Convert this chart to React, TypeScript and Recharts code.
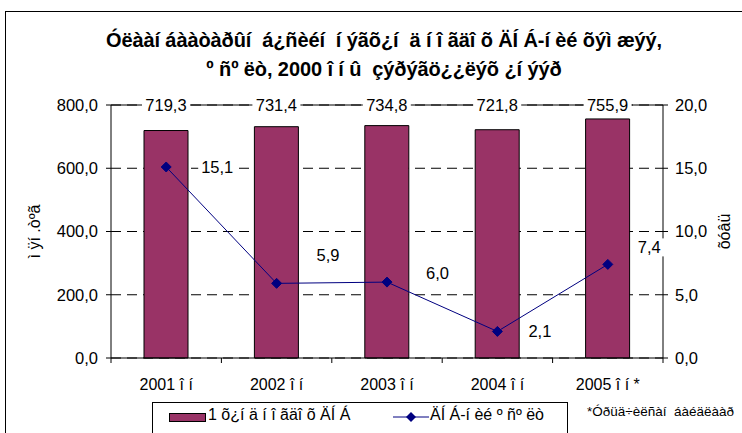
import React from "react"
import {
  ComposedChart,
  Bar,
  Line,
  XAxis,
  YAxis,
  CartesianGrid,
  ReferenceLine,
  LabelList,
} from "recharts"

const years = ["2001 î í", "2002 î í", "2003 î í", "2004 î í", "2005 î í *"]
const gdpPerCapita = [719.3, 731.4, 734.8, 721.8, 755.9]
const growthRate = [15.1, 5.9, 6.0, 2.1, 7.4]
const leftTicks = [0, 200, 400, 600, 800]
const rightTicks = [0, 5, 10, 15, 20]

const titleLines = [
  "Óëààí áààòàðûí  á¿ñèéí  í ýãõ¿í  ä í î ãäî õ ÄÍ Á-í èé õýì æýý,",
  "º ñº ëò, 2000 î í û  çýðýãö¿¿ëýõ ¿í ýýð",
]
const barName = "1 õ¿í ä í î ãäî õ ÄÍ Á"
const lineName = "ÄÍ Á-í èé º ñº ëò"
const leftTitle = "ì ÿí .òºã"
const rightTitle = "õóâü"
const footnote = "*Óðüä÷èëñàí  áàéäëààð"

const data = years.map((year, i) => ({
  year,
  gdp: gdpPerCapita[i],
  growth: growthRate[i],
}))

const W = 742
const H = 433
const PLOT_LEFT = 111
const PLOT_RIGHT = 663
const PLOT_TOP = 105
const PLOT_BOTTOM = 358
const PLOT_MID = (PLOT_TOP + PLOT_BOTTOM) / 2
const HALF_BAND = (PLOT_RIGHT - PLOT_LEFT) / years.length / 2
const FONT = "'Liberation Sans', Arial, sans-serif"
const BAR_COLOR = "#993366"
const LINE_COLOR = "#000080"

const fmt = (v: number) => v.toFixed(1).replace(".", ",")

// label offsets for the growth line (Excel-ish "right" placement, hand nudged)
const lineLabelShift = [
  { dx: 35, dy: 0 },
  { dx: 40, dy: -28 },
  { dx: 39, dy: -9 },
  { dx: 31, dy: 0 },
  { dx: 30, dy: -17 },
]

function XTick(props: any) {
  const { x, y, payload, index } = props
  return (
    <g>
      <line x1={x - HALF_BAND} x2={x - HALF_BAND} y1={y} y2={y + 5} stroke="#000" />
      {index === years.length - 1 && (
        <line x1={x + HALF_BAND} x2={x + HALF_BAND} y1={y} y2={y + 5} stroke="#000" />
      )}
      <text
        x={x}
        y={y + 26}
        textAnchor="middle"
        dominantBaseline="central"
        fontSize={16}
        fontFamily={FONT}
        fill="#000"
      >
        {payload.value}
      </text>
    </g>
  )
}

function Diamond(props: any) {
  const { cx, cy } = props
  if (cx == null || cy == null) return null
  const r = 5
  return (
    <polygon
      points={`${cx},${cy - r} ${cx + r},${cy} ${cx},${cy + r} ${cx - r},${cy}`}
      fill={LINE_COLOR}
      stroke={LINE_COLOR}
    />
  )
}

function BarTopLabel(props: any) {
  const { x, width, value } = props
  const cx = x + width / 2
  return (
    <g>
      <rect x={cx - 24} y={PLOT_TOP - 9} width={48} height={18} fill="#fff" />
      <text
        x={cx}
        y={PLOT_TOP}
        textAnchor="middle"
        dominantBaseline="central"
        fontSize={16.5}
        fontFamily={FONT}
        fill="#000"
      >
        {fmt(value)}
      </text>
    </g>
  )
}

function GrowthLabel(props: any) {
  const { x, y, value, index } = props
  const s = lineLabelShift[index] || { dx: 30, dy: 0 }
  const lx = x + s.dx
  const ly = y + s.dy
  return (
    <g>
      <rect x={lx - 3} y={ly - 9} width={36} height={18} fill="#fff" />
      <text
        x={lx}
        y={ly}
        textAnchor="start"
        dominantBaseline="central"
        fontSize={16.5}
        fontFamily={FONT}
        fill="#000"
      >
        {fmt(value)}
      </text>
    </g>
  )
}

export default function App() {
  return (
    <div
      style={{
        position: "absolute",
        left: 0,
        top: 0,
        width: W,
        height: H,
        background: "#fff",
        overflow: "hidden",
        fontFamily: FONT,
      }}
    >
      {/* chart frame */}
      <div
        style={{
          position: "absolute",
          left: 5,
          top: 11,
          width: W,
          height: H,
          border: "1px solid #000",
        }}
      />
      <div
        style={{
          position: "absolute",
          left: 0,
          top: 26,
          width: 768,
          textAlign: "center",
          fontWeight: "bold",
          fontSize: 20,
          lineHeight: "29px",
          letterSpacing: -0.1,
          whiteSpace: "pre",
        }}
      >
        {titleLines.map((t) => (
          <div key={t}>{t}</div>
        ))}
      </div>

      <div style={{ position: "absolute", left: 0, top: 0 }}>
        <ComposedChart
          width={W}
          height={H}
          data={data}
          margin={{ top: PLOT_TOP, right: 0, bottom: H - PLOT_BOTTOM - 40, left: 0 }}
        >
          <CartesianGrid
            vertical={false}
            yAxisId="left"
            stroke="#000"
            strokeDasharray="10 6"
          />
          <XAxis
            dataKey="year"
            axisLine={{ stroke: "#000" }}
            tickLine={false}
            tickSize={0}
            tickMargin={0}
            height={40}
            tick={<XTick />}
            interval={0}
          />
          <YAxis
            yAxisId="left"
            domain={[0, 800]}
            ticks={leftTicks}
            tickFormatter={fmt}
            width={PLOT_LEFT}
            axisLine={{ stroke: "#000" }}
            tickLine={{ stroke: "#000" }}
            tickSize={5}
            tickMargin={8}
            tick={{ fill: "#000", fontSize: 16.5, fontFamily: FONT }}
          />
          <YAxis
            yAxisId="right"
            orientation="right"
            domain={[0, 20]}
            ticks={rightTicks}
            tickFormatter={fmt}
            width={W - PLOT_RIGHT}
            axisLine={{ stroke: "#000" }}
            tickLine={{ stroke: "#000" }}
            tickSize={5}
            tickMargin={7}
            tick={{ fill: "#000", fontSize: 16.5, fontFamily: FONT }}
          />
          <ReferenceLine yAxisId="left" y={800} stroke="#000" strokeWidth={1} />
          <Bar
            yAxisId="left"
            dataKey="gdp"
            name={barName}
            fill={BAR_COLOR}
            stroke="#000"
            strokeWidth={1}
            barSize={44}
            isAnimationActive={false}
          >
            <LabelList dataKey="gdp" content={<BarTopLabel />} />
          </Bar>
          <Line
            yAxisId="right"
            dataKey="growth"
            name={lineName}
            stroke={LINE_COLOR}
            strokeWidth={1}
            dot={<Diamond />}
            activeDot={false}
            isAnimationActive={false}
          >
            <LabelList dataKey="growth" content={<GrowthLabel />} />
          </Line>
        </ComposedChart>
      </div>

      {/* axis titles */}
      <svg
        width={W}
        height={H}
        style={{ position: "absolute", left: 0, top: 0, pointerEvents: "none" }}
      >
        <text
          x={40}
          y={PLOT_MID}
          transform={`rotate(-90 40 ${PLOT_MID})`}
          textAnchor="middle"
          fontSize={16}
          fontFamily={FONT}
        >
          {leftTitle}
        </text>
        <text
          x={730}
          y={PLOT_MID}
          transform={`rotate(-90 730 ${PLOT_MID})`}
          textAnchor="middle"
          fontSize={16}
          fontFamily={FONT}
        >
          {rightTitle}
        </text>
      </svg>

      {/* legend */}
      <div
        style={{
          position: "absolute",
          left: 152,
          top: 402,
          width: 416,
          height: 40,
          border: "1px solid #000",
          boxSizing: "border-box",
        }}
      >
        <div
          style={{
            position: "absolute",
            left: 16,
            top: 10,
            width: 35,
            height: 7,
            background: BAR_COLOR,
            border: "1px solid #000",
          }}
        />
        <div style={{ position: "absolute", left: 55, top: 3, fontSize: 16, whiteSpace: "pre" }}>
          {barName}
        </div>
        <svg style={{ position: "absolute", left: 240, top: 8 }} width={36} height={12}>
          <line x1={0} x2={36} y1={6} y2={6} stroke={LINE_COLOR} />
          <polygon points="18,1 23,6 18,11 13,6" fill={LINE_COLOR} />
        </svg>
        <div style={{ position: "absolute", left: 277, top: 3, fontSize: 16, whiteSpace: "pre" }}>
          {lineName}
        </div>
      </div>
      <div
        style={{
          position: "absolute",
          left: 587,
          top: 404,
          fontSize: 13.5,
          whiteSpace: "pre",
        }}
      >
        {footnote}
      </div>
    </div>
  )
}
